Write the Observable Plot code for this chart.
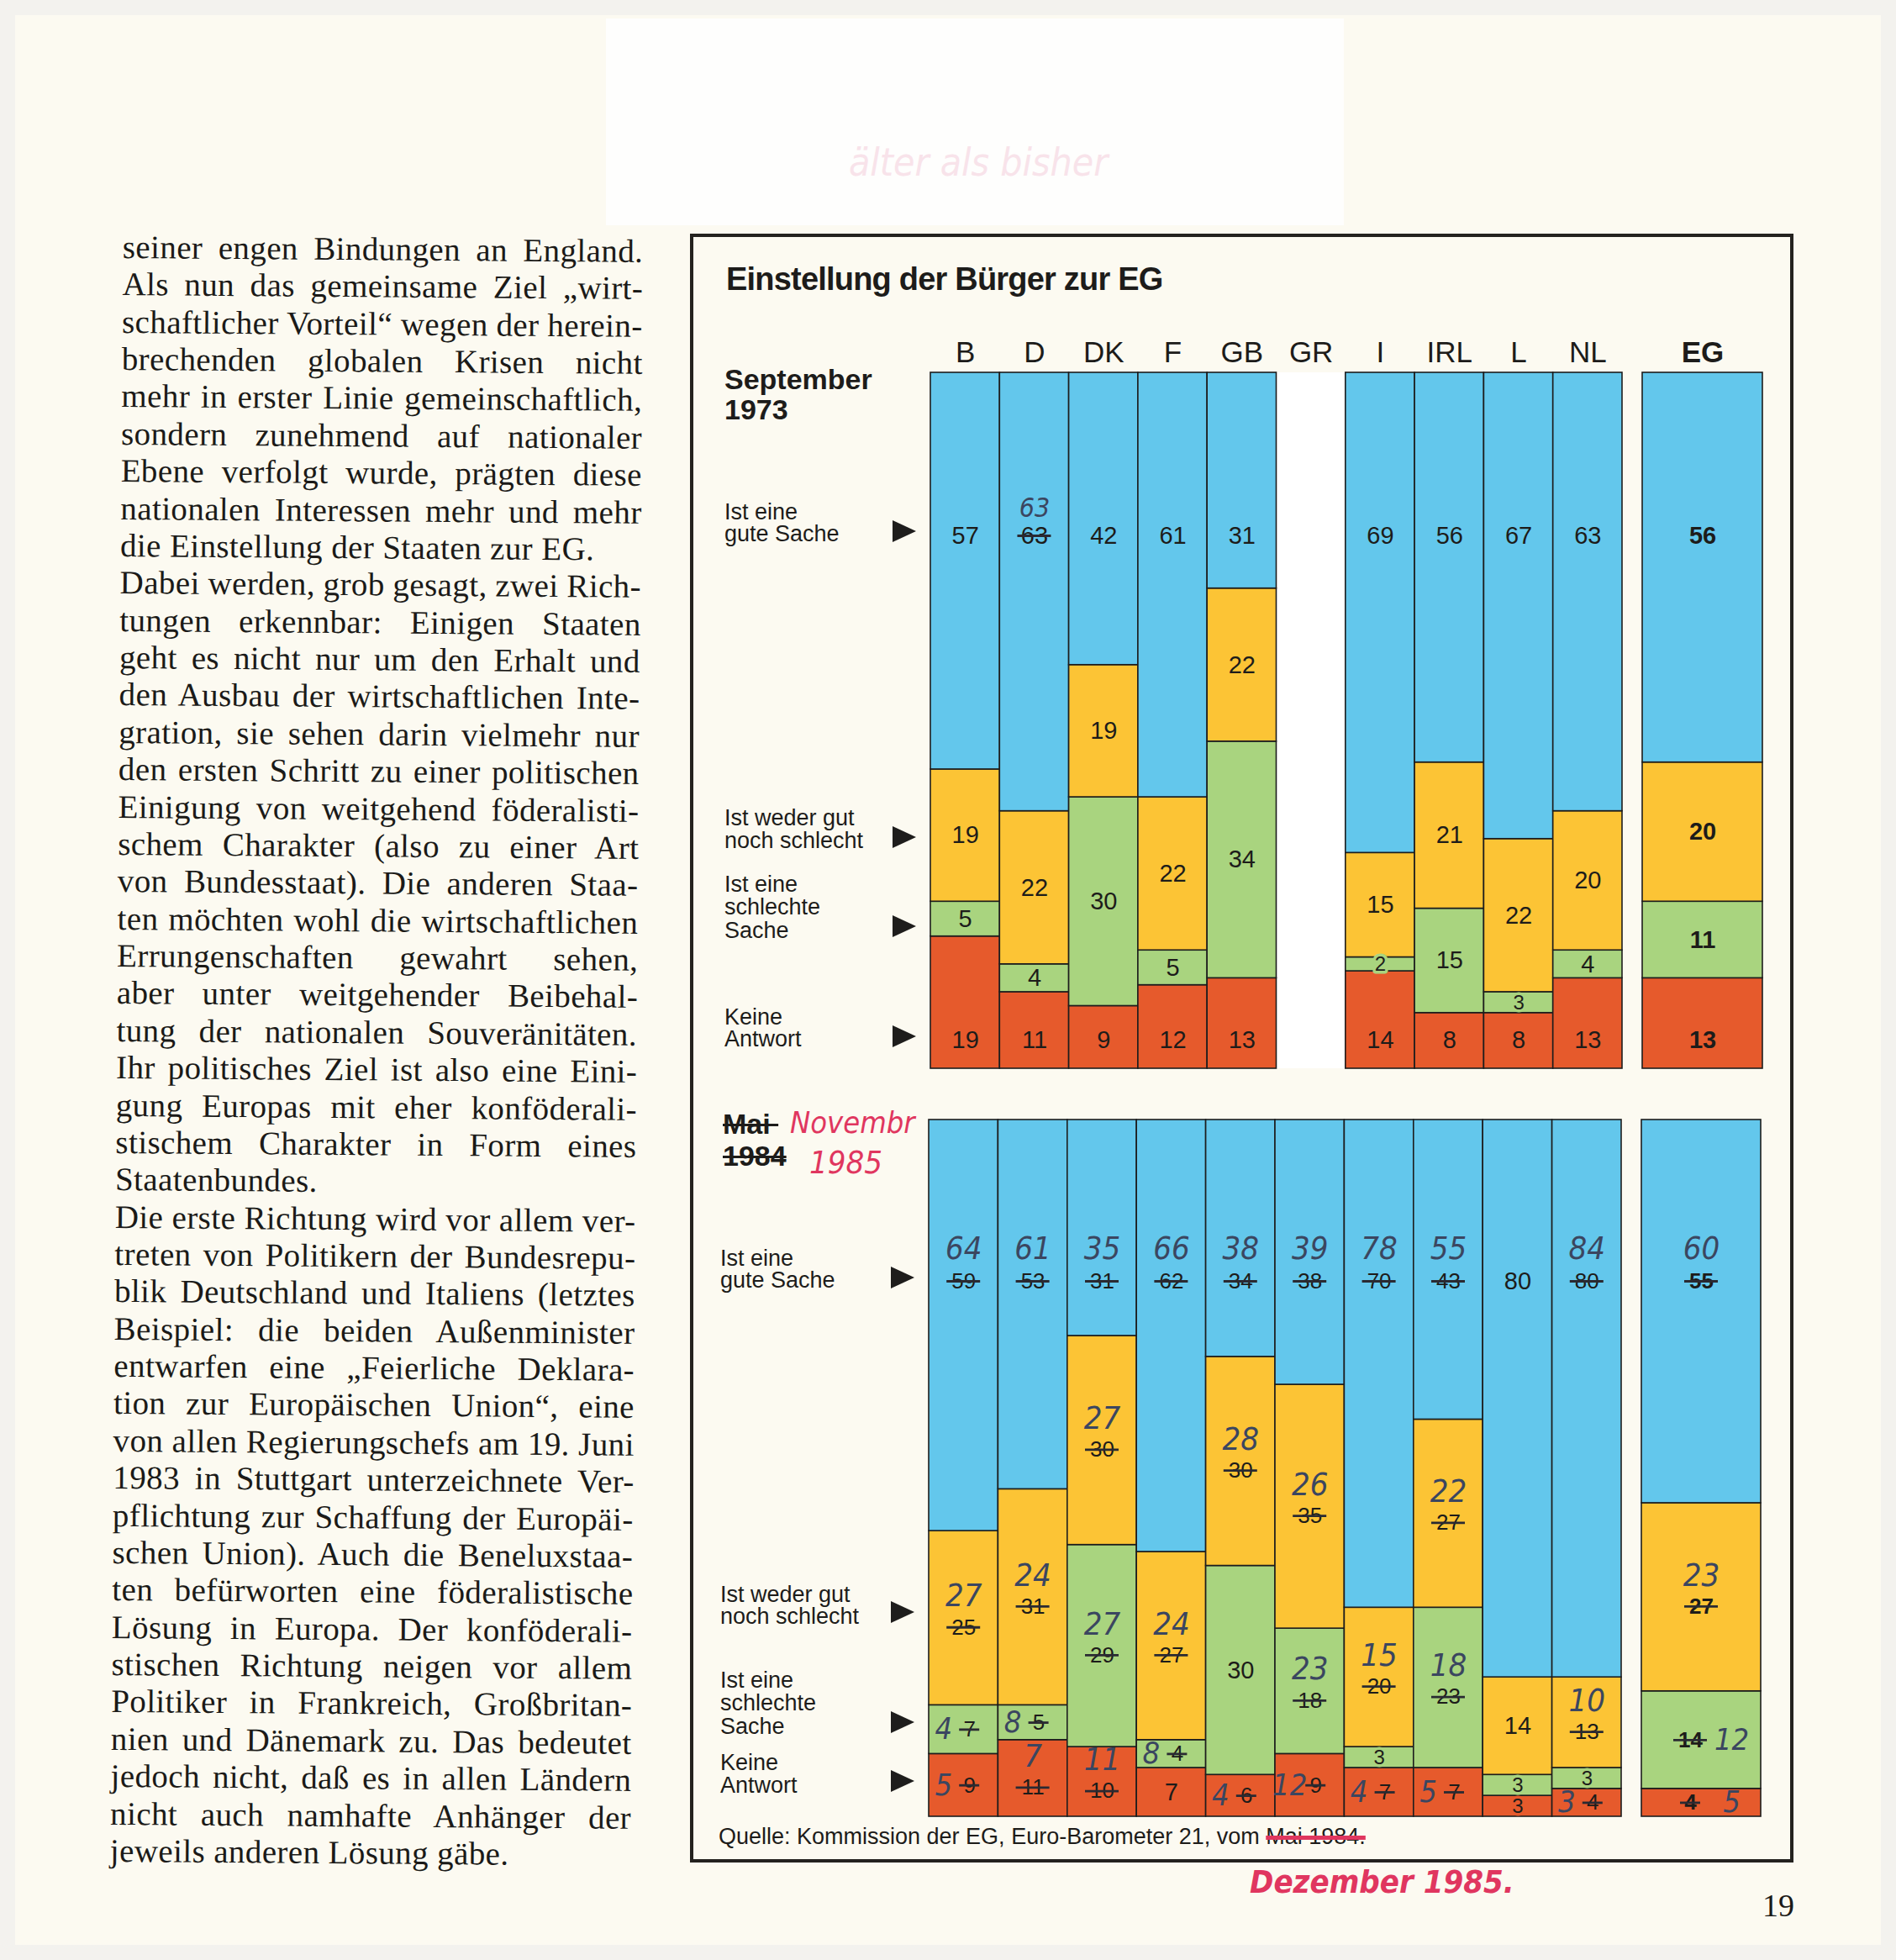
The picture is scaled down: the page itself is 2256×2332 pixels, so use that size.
<!DOCTYPE html>
<html>
<head>
<meta charset="utf-8">
<script src="https://cdn.jsdelivr.net/npm/d3@7"></script>
<script src="https://cdn.jsdelivr.net/npm/@observablehq/plot@0.6"></script>
<style>
  html, body { margin:0; padding:0; }
  body { width:2256px; height:2332px; position:relative; overflow:hidden; background:#f3f2ee; color:#1d1c1a; font-family:'Liberation Sans', Arial, sans-serif; }
  .a { position:absolute; white-space:nowrap; }
  #page { left:18px; top:18px; width:2220px; height:2296px; background:#fcfaf1; }
  #patch { left:721px; top:22px; width:878px; height:246px; background:#fefefd; }
  #box { left:821px; top:278px; width:1313px; height:1938px; border:4px solid #24221f; box-sizing:border-box; }
  .line { position:absolute; left:0; height:44.37px; line-height:44.37px; font-family:'Liberation Serif','Times New Roman',serif; font-size:39px; letter-spacing:0.4px; white-space:nowrap; color:#1b1a18; }
  .arrow { position:absolute; width:0; height:0; border-left:28px solid #1e1d1c; border-top:13px solid transparent; border-bottom:13px solid transparent; }
  .plotwrap { position:absolute; }
  .plotwrap svg { display:block; }
</style>
</head>
<body>
<div id="page" class="a"></div>
<div id="patch" class="a"></div>
<div id="box" class="a"></div>
<div id="text" class="a" style="left:146px; top:272px; width:620px; transform-origin:0 0; transform:rotate(0.45deg);"></div>
<div id="ui"></div>
<script>
// ---------------- DATA ----------------
const countries = ["B","D","DK","F","GB","GR","I","IRL","L","NL"];
const egName = ["EG"];
const cats = ["gut","weder","schlecht","keine"];
const catColors = ["#63c7ec","#fcc435","#a9d47f","#e65a2c"];

// September 1973 (printed)
const gut1973 = [57,63,42,61,31,null,69,56,67,63];
const weder1973 = [19,22,19,22,22,null,15,21,22,20];
const schlecht1973 = [5,4,30,5,34,null,2,15,3,4];
const keine1973 = [19,11,9,12,13,null,14,8,8,13];
const eg1973 = [56,20,11,13];
// handwritten correction in the 1973 panel
const gut1973Hand = [null,63,null,null,null,null,null,null,null,null];

// Mai 1984 (printed)
const gut1984 = [59,53,31,62,34,38,70,43,80,80];
const weder1984 = [25,31,30,27,30,35,20,27,14,13];
const schlecht1984 = [7,5,29,4,30,18,3,23,3,3];
const keine1984 = [9,11,10,7,6,9,7,7,3,4];
const eg1984 = [55,27,14,4];

// November 1985 (handwritten corrections)
const gut1985 = [64,61,35,66,38,39,78,55,null,84];
const weder1985 = [27,24,27,24,28,26,15,22,null,10];
const schlecht1985 = [4,8,27,8,null,23,null,18,null,null];
const keine1985 = [5,7,11,null,4,12,4,5,null,3];
const eg1985 = [60,23,12,5];

// ---------------- TEXT COLUMN ----------------
const textLines = [
  "seiner engen Bindungen an England.",
  "Als nun das gemeinsame Ziel „wirt-",
  "schaftlicher Vorteil“ wegen der herein-",
  "brechenden globalen Krisen nicht",
  "mehr in erster Linie gemeinschaftlich,",
  "sondern zunehmend auf nationaler",
  "Ebene verfolgt wurde, prägten diese",
  "nationalen Interessen mehr und mehr",
  "die Einstellung der Staaten zur EG.",
  "Dabei werden, grob gesagt, zwei Rich-",
  "tungen erkennbar: Einigen Staaten",
  "geht es nicht nur um den Erhalt und",
  "den Ausbau der wirtschaftlichen Inte-",
  "gration, sie sehen darin vielmehr nur",
  "den ersten Schritt zu einer politischen",
  "Einigung von weitgehend föderalisti-",
  "schem Charakter (also zu einer Art",
  "von Bundesstaat). Die anderen Staa-",
  "ten möchten wohl die wirtschaftlichen",
  "Errungenschaften gewahrt sehen,",
  "aber unter weitgehender Beibehal-",
  "tung der nationalen Souveränitäten.",
  "Ihr politisches Ziel ist also eine Eini-",
  "gung Europas mit eher konföderali-",
  "stischem Charakter in Form eines",
  "Staatenbundes.",
  "Die erste Richtung wird vor allem ver-",
  "treten von Politikern der Bundesrepu-",
  "blik Deutschland und Italiens (letztes",
  "Beispiel: die beiden Außenminister",
  "entwarfen eine „Feierliche Deklara-",
  "tion zur Europäischen Union“, eine",
  "von allen Regierungschefs am 19. Juni",
  "1983 in Stuttgart unterzeichnete Ver-",
  "pflichtung zur Schaffung der Europäi-",
  "schen Union). Auch die Beneluxstaa-",
  "ten befürworten eine föderalistische",
  "Lösung in Europa. Der konföderali-",
  "stischen Richtung neigen vor allem",
  "Politiker in Frankreich, Großbritan-",
  "nien und Dänemark zu. Das bedeutet",
  "jedoch nicht, daß es in allen Ländern",
  "nicht auch namhafte Anhänger der",
  "jeweils anderen Lösung gäbe."
];
const paraEnds = new Set([8, 25, 43]);
const tc = document.getElementById("text");
textLines.forEach((t, i) => {
  const div = document.createElement("div");
  div.className = "line";
  div.style.top = (i * 44.37) + "px";
  const span = document.createElement("span");
  span.textContent = t;
  div.appendChild(span);
  tc.appendChild(div);
  if (!paraEnds.has(i)) {
    const w = span.offsetWidth;
    const n = (t.match(/ /g) || []).length;
    if (n > 0) span.style.wordSpacing = ((620 - w) / n) + "px";
  }
});

// ---------------- HTML LABELS ----------------
const ui = document.getElementById("ui");
function label(html, x, cy, size, css = "") {
  const d = document.createElement("div");
  d.className = "a";
  d.style.cssText += `left:${x}px;top:${cy - size * 0.55}px;font-size:${size}px;line-height:${size * 1.1}px;` + css;
  d.innerHTML = html;
  ui.appendChild(d);
  return d;
}
function arrow(x, cy) {
  const d = document.createElement("div");
  d.className = "arrow";
  d.style.left = x + "px";
  d.style.top = (cy - 13) + "px";
  ui.appendChild(d);
}
const sansCss = "font-family:'Liberation Sans',Arial,sans-serif;color:#1d1c1a;";
const redInk = "#e0365f";
const handCss = "font-family:'DejaVu Sans Condensed','DejaVu Sans',sans-serif;font-style:oblique;";

// faint pink note at the top
label("älter als bisher", 1010, 193, 46, handCss + "color:#f8e3ea;");

// title
label("Einstellung der Bürger zur EG", 864, 333, 38, sansCss + "font-weight:bold;letter-spacing:-0.8px;");

// top panel side labels
label("September", 862, 452, 34, sansCss + "font-weight:bold;");
label("1973", 862, 488, 34, sansCss + "font-weight:bold;");
[[["Ist eine","gute Sache"],[610,636],632],
 [["Ist weder gut","noch schlecht"],[974,1001],996],
 [["Ist eine","schlechte","Sache"],[1053,1080,1108],1102],
 [["Keine","Antwort"],[1211,1237],1233]].forEach(([ls, ys, ay]) => {
  ls.forEach((l, j) => label(l, 862, ys[j], 27, sansCss));
  arrow(1062, ay);
});

// bottom panel side labels
label("Mai\u00a0", 860, 1338, 34, sansCss + "font-weight:bold;text-decoration:line-through;text-decoration-thickness:3px;");
label("1984", 860, 1376, 34, sansCss + "font-weight:bold;text-decoration:line-through;text-decoration-thickness:3px;");
label("Novembr", 940, 1336, 36, handCss + `color:${redInk};`);
label("1985", 963, 1384, 38, handCss + `color:${redInk};`);
[[["Ist eine","gute Sache"],[1498,1524],1520],
 [["Ist weder gut","noch schlecht"],[1898,1924],1918],
 [["Ist eine","schlechte","Sache"],[2000,2027,2055],2049],
 [["Keine","Antwort"],[2098,2125],2119]].forEach(([ls, ys, ay]) => {
  ls.forEach((l, j) => label(l, 857, ys[j], 27, sansCss));
  arrow(1060, ay);
});

// source
label(`Quelle: Kommission der EG, Euro-Barometer 21, vom <span style="text-decoration:line-through;text-decoration-color:${redInk};text-decoration-thickness:5px;">Mai 1984.</span>`, 855, 2186, 27, sansCss);
label("Dezember 1985.", 1487, 2240, 38, handCss + `color:${redInk};font-weight:bold;`);
label("19", 2097, 2268, 38, "font-family:'Liberation Serif',serif;color:#1b1a18;");

// ---------------- PLOTS ----------------
const sansFont = "'Liberation Sans', Arial, sans-serif";
const handFont = "'DejaVu Sans Condensed', 'DejaVu Sans', sans-serif";
const ink = "#3b4660";
const strikeInk = "#2a2a32";

function buildSegments(names, series, hands) {
  const rows = [];
  names.forEach((name, i) => {
    const vals = series.map(s => s[i]);
    if (vals.some(v => v == null)) return;
    let acc = 0;
    for (let k = 3; k >= 0; k--) {
      const v = vals[k];
      rows.push({name, cat: cats[k], value: v, y1: acc, y2: acc + v, mid: acc + v / 2,
                 hand: hands && hands[k] ? hands[k][i] : null});
      acc += v;
    }
  });
  return rows;
}

function layoutLabels(segs, mode, isEG, h) {
  const u = px => px * 100 / h;
  const out = [];
  for (const s of segs) {
    const struck = s.hand != null;
    let py, hy = null, pdx = 0, hdx = 0, hsize = 38;
    if (s.cat === "gut") {
      py = 100 - u(mode === "1973" ? 194 : 192);
      hy = 100 - u(mode === "1973" ? 161 : 153);
      if (mode === "1973") hsize = 32;
    } else if (mode === "1973" && s.cat === "keine") {
      py = u(34);
    } else if (!struck) {
      py = s.mid;
    } else {
      const side = isEG ? (s.cat === "schlecht" || s.cat === "keine") : s.value < 10;
      if (side) { py = hy = s.mid; pdx = isEG ? -13 : 7; hdx = isEG ? 36 : -24; hsize = 36; }
      else { py = s.mid - u(11); hy = s.mid + u(26); }
    }
    let size = mode === "1973" ? 29 : (struck ? 26 : 29);
    if (s.value <= 3) size = 24;
    out.push({kind: "printed", name: s.name, cat: s.cat, text: String(s.value), ty: py, dx: pdx, struck, size,
              weight: isEG ? "bold" : "normal", len: String(s.value).length});
    if (struck) out.push({kind: "hand", name: s.name, cat: s.cat, text: String(s.hand), ty: hy, dx: hdx, hsize});
  }
  return out;
}

function makePanel({names, series, hands, mode, isEG, frame, header}) {
  const mL = 3, mR = 3, mB = 3, mT = header ? 62 : 3;
  const segs = buildSegments(names, series, hands);
  const labels = layoutLabels(segs, mode, isEG, frame.h);
  const bw = frame.w / names.length;
  const marks = [];
  const empty = names.filter((n, i) => series[0][i] == null);
  if (empty.length) marks.push(Plot.barY(empty, {x: d => d, y1: 0, y2: 100, fill: "#ffffff"}));
  marks.push(Plot.barY(segs, {x: "name", y1: "y1", y2: "y2", fill: "cat", stroke: "#1d1d1d", strokeWidth: 1.6}));
  if (header) {
    marks.push(Plot.text(names, {x: d => d, text: d => d, frameAnchor: "top", lineAnchor: "middle", dy: -24, fontSize: 35,
      fontWeight: isEG ? "bold" : "normal", fill: "#1d1c1a", fontFamily: sansFont}));
  }
  const printed = labels.filter(d => d.kind === "printed");
  for (const [key, g] of d3.group(printed, d => `${d.dx}|${d.size}|${d.weight}`)) {
    const [dx, size, weight] = key.split("|");
    marks.push(Plot.text(g, {x: "name", y: "ty", text: "text", dx: +dx, fontSize: +size, fontWeight: weight,
      fontFamily: sansFont, fill: "#1d1c1a", stroke: "cat", strokeWidth: 7, strokeLinejoin: "round", paintOrder: "stroke"}));
  }
  const hand = labels.filter(d => d.kind === "hand");
  for (const [key, g] of d3.group(hand, d => `${d.dx}|${d.hsize}`)) {
    const [dx, hsize] = key.split("|").map(Number);
    marks.push(Plot.text(g, {x: "name", y: "ty", text: "text", dx, fontSize: hsize, fontStyle: "oblique",
      fontFamily: handFont, fill: ink}));
  }
  const struck = printed.filter(d => d.struck);
  for (const [key, g] of d3.group(struck, d => `${d.dx}|${d.len}`)) {
    const [dx, len] = key.split("|").map(Number);
    const half = len > 1 ? 20 : 12;
    marks.push(Plot.tickY(g, {x: "name", y: "ty", stroke: strikeInk, strokeWidth: 2.8,
      insetLeft: bw / 2 + dx - half, insetRight: bw / 2 - dx - half}));
  }
  const plot = Plot.plot({
    width: frame.w + mL + mR, height: frame.h + mT + mB,
    marginTop: mT, marginBottom: mB, marginLeft: mL, marginRight: mR,
    x: {type: "band", domain: names, padding: 0, round: false, axis: null},
    y: {domain: [0, 100], axis: null},
    color: {domain: cats, range: catColors},
    style: {background: "transparent", overflow: "visible", fontFamily: sansFont},
    marks
  });
  const wrap = document.createElement("div");
  wrap.className = "plotwrap";
  wrap.style.left = (frame.x - mL) + "px";
  wrap.style.top = (frame.y - mT) + "px";
  wrap.appendChild(plot);
  document.body.appendChild(wrap);
}

const none = countries.map(() => null);
makePanel({names: countries, series: [gut1973, weder1973, schlecht1973, keine1973],
  hands: [gut1973Hand, none, none, none], mode: "1973", isEG: false,
  frame: {x: 1107, y: 443, w: 823, h: 828}, header: true});
makePanel({names: egName, series: eg1973.map(v => [v]), hands: null, mode: "1973", isEG: true,
  frame: {x: 1954, y: 443, w: 143, h: 828}, header: true});
makePanel({names: countries, series: [gut1984, weder1984, schlecht1984, keine1984],
  hands: [gut1985, weder1985, schlecht1985, keine1985], mode: "1984", isEG: false,
  frame: {x: 1105, y: 1332, w: 824, h: 829}, header: false});
makePanel({names: egName, series: eg1984.map(v => [v]), hands: eg1985.map(v => [v]), mode: "1984", isEG: true,
  frame: {x: 1953, y: 1332, w: 142, h: 829}, header: false});
</script>
</body>
</html>
